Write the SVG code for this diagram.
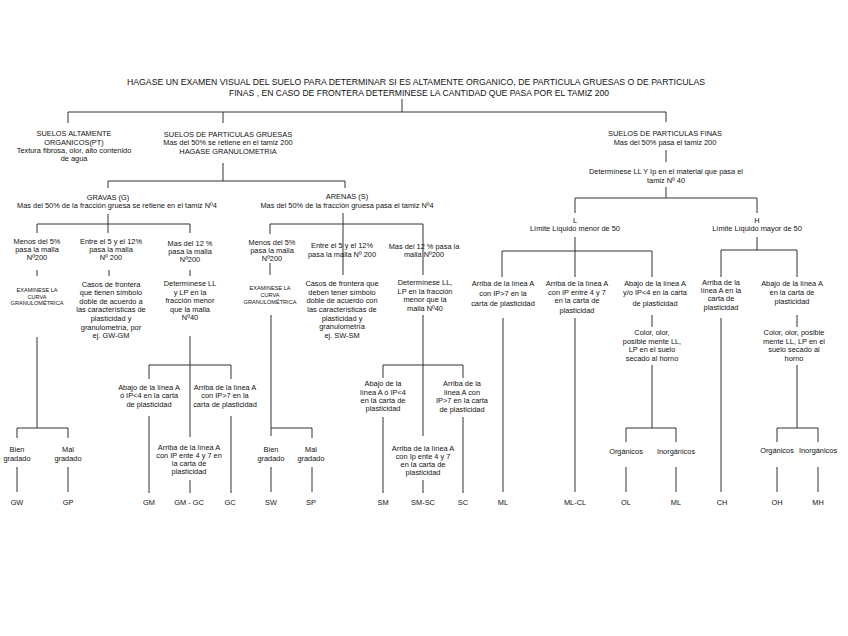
<svg xmlns="http://www.w3.org/2000/svg" width="848" height="636" viewBox="0 0 848 636">
<style>
text{font-family:"Liberation Sans",Arial,sans-serif;fill:#111;text-anchor:middle}
.t{font-size:7.4px}
.s{font-size:5.6px}
.h{font-size:8.6px}
.c{fill:none;stroke:#333;stroke-width:1}
</style>
<rect width="848" height="636" fill="#fff"/>
<g id="connectors" class="c">
<path d="M402,99V112M68,123V112H666V122M223,112V123"/>
<path d="M223,163V181M108,188V181H345V188"/>
<path d="M108,214V233M37,233V224H190V233M37,270V276M109,270V276M190,270V276"/>
<path d="M37,337V428M17,438V428H68V438M17,467V492M68,467V492"/>
<path d="M190,336V437M149,379V365H231V379M149,416V493M231,416V493M190,480V493"/>
<path d="M343,213V275M270,234V224H423V275M270,263V275"/>
<path d="M271,315V436M271,428H312V438M271,467V492M312,467V492"/>
<path d="M423,315V436M383,378V365H463V378M383,417V493M463,417V493M423,480V493"/>
<path d="M666,150V162M666,187V198M575,213V198H757V213"/>
<path d="M575,237V277M502,277V251H652V277M757,237V250M721,277V250H797V277"/>
<path d="M503,318V492M575,318V492M721,318V492M652,315V327M797,315V327"/>
<path d="M652,365V428M626,442V428H676V442M626,467V492M676,467V492"/>
<path d="M797,365V428M777,442V428H818V442M777,467V492M818,467V492"/>
</g>
<g id="title" class="h">
<text x="416" y="85" textLength="578" lengthAdjust="spacingAndGlyphs">HAGASE UN EXAMEN VISUAL DEL SUELO PARA DETERMINAR SI ES ALTAMENTE ORGANICO, DE PARTICULA GRUESAS  O DE PARTICULAS</text>
<text x="419" y="96" textLength="380" lengthAdjust="spacingAndGlyphs">FINAS , EN CASO DE FRONTERA DETERMINESE LA CANTIDAD QUE PASA POR EL TAMIZ 200</text>
</g>
<g id="organicos" class="t">
<text x="74" y="135.5">SUELOS ALTAMENTE</text>
<text x="74" y="144.5">ORGANICOS(PT)</text>
<text x="74" y="152.5">Textura fibrosa, olor, alto contenido</text>
<text x="74" y="160.5">de agua</text>
</g>
<g id="gruesas" class="t">
<text x="228" y="136.5">SUELOS DE PARTICULAS GRUESAS</text>
<text x="228" y="144.5">Mas del 50% se retiene en el tamiz 200</text>
<text x="228" y="153.5">HAGASE GRANULOMETRIA</text>
</g>
<g id="finas" class="t">
<text x="665" y="135.5">SUELOS DE PARTICULAS FINAS</text>
<text x="665" y="144.5">Mas del 50%  pasa el tamiz 200</text>
</g>
<g id="determinese" class="t">
<text x="666" y="173.5">Determínese LL Y Ip  en el material que pasa el</text>
<text x="666" y="182.5">tamiz Nº 40</text>
</g>
<g id="gravas" class="t">
<text x="108" y="199.5">GRAVAS (G)</text>
<text x="117" y="207.5">Mas del 50% de la fracción gruesa se retiene en el tamiz Nº4</text>
</g>
<g id="arenas" class="t">
<text x="347" y="198.5">ARENAS (S)</text>
<text x="347" y="207.5">Mas del 50% de la fracción gruesa pasa el tamiz Nº4</text>
</g>
<g id="g-menos5" class="t">
<text x="37" y="243.5">Menos del 5%</text>
<text x="37" y="251.5">pasa la malla</text>
<text x="37" y="259.5">Nº200</text>
</g>
<g id="g-entre" class="t">
<text x="111" y="243.5">Entre el 5 y el 12%</text>
<text x="111" y="251.5">pasa la malla</text>
<text x="111" y="259.5">Nº 200</text>
</g>
<g id="g-mas12" class="t">
<text x="190" y="245.5">Mas del 12 %</text>
<text x="190" y="253.5">pasa la malla</text>
<text x="190" y="261.5">Nº200</text>
</g>
<g id="g-examinese" class="s">
<text x="37" y="292">EXAMINESE  LA</text>
<text x="37" y="299">CURVA</text>
<text x="37" y="305">GRANULOMÉTRICA</text>
</g>
<g id="g-casos" class="t">
<text x="111" y="286.5">Casos de frontera</text>
<text x="111" y="294.5">que tienen símbolo</text>
<text x="111" y="303.5">doble de acuerdo a</text>
<text x="111" y="311.5">las características de</text>
<text x="111" y="320.5">plasticidad y</text>
<text x="111" y="329.5">granulometría, por</text>
<text x="111" y="337.5">ej.  GW-GM</text>
</g>
<g id="g-determinese" class="t">
<text x="190" y="285.5">Determínese LL</text>
<text x="190" y="294.5">y LP en la</text>
<text x="190" y="302.5">fracción menor</text>
<text x="190" y="311.5">que la malla</text>
<text x="190" y="319.5">Nº40</text>
</g>
<g id="g-bien" class="t"><text x="17" y="451.5">Bien</text><text x="17" y="460.5">gradado</text></g>
<g id="g-mal" class="t"><text x="68" y="451.5">Mal</text><text x="68" y="460.5">gradado</text></g>
<g id="g-abajo" class="t">
<text x="149" y="389.5">Abajo de la línea A</text>
<text x="149" y="397.5">ó IP&lt;4 en la carta</text>
<text x="149" y="406.5">de plasticidad</text>
</g>
<g id="g-arriba7" class="t">
<text x="225" y="389.5">Arriba de la línea A</text>
<text x="225" y="397.5">con IP&gt;7 en la</text>
<text x="225" y="406.5">carta de plasticidad</text>
</g>
<g id="g-arriba47" class="t">
<text x="189" y="449.5">Arriba de la línea A</text>
<text x="189" y="457.5">con IP ente 4 y 7 en</text>
<text x="189" y="465.5">la carta de</text>
<text x="189" y="473.5">plasticidad</text>
</g>
<g id="s-menos5" class="t">
<text x="272" y="244.5">Menos del 5%</text>
<text x="272" y="252.5">pasa la malla</text>
<text x="272" y="260.5">Nº200</text>
</g>
<g id="s-entre" class="t">
<text x="342" y="247.5">Entre el 5 y el 12%</text>
<text x="342" y="256.5">pasa la malla Nº 200</text>
</g>
<g id="s-mas12" class="t">
<text x="424" y="248.5">Mas del 12 % pasa la</text>
<text x="424" y="256.5">malla Nº200</text>
</g>
<g id="s-examinese" class="s">
<text x="270" y="290">EXAMINESE  LA</text>
<text x="270" y="297">CURVA</text>
<text x="270" y="304">GRANULOMÉTRICA</text>
</g>
<g id="s-casos" class="t">
<text x="342" y="285.5">Casos de frontera que</text>
<text x="342" y="294.5">deben tener símbolo</text>
<text x="342" y="302.5">doble de acuerdo con</text>
<text x="342" y="311.5">las características de</text>
<text x="342" y="320.5">plasticidad y</text>
<text x="342" y="328.5">granulometría</text>
<text x="342" y="337.5">ej. SW-SM</text>
</g>
<g id="s-determinese" class="t">
<text x="425" y="284.5">Determínese  LL,</text>
<text x="425" y="293.5">LP en la fracción</text>
<text x="425" y="301.5">menor que la</text>
<text x="425" y="310.5">malla Nº40</text>
</g>
<g id="s-bien" class="t"><text x="271" y="451.5">Bien</text><text x="271" y="460.5">gradado</text></g>
<g id="s-mal" class="t"><text x="311" y="451.5">Mal</text><text x="311" y="460.5">gradado</text></g>
<g id="s-abajo" class="t">
<text x="383" y="385.5">Abajo de la</text>
<text x="383" y="394.5">línea A ó IP&lt;4</text>
<text x="383" y="402.5">en la carta de</text>
<text x="383" y="410.5">plasticidad</text>
</g>
<g id="s-arriba7" class="t">
<text x="462" y="385.5">Arriba de la</text>
<text x="462" y="394.5">línea A con</text>
<text x="462" y="402.5">IP&gt;7 en la carta</text>
<text x="462" y="411.5">de plasticidad</text>
</g>
<g id="s-arriba47" class="t">
<text x="423" y="450.5">Arriba de la línea A</text>
<text x="423" y="458.5">con Ip ente 4 y 7</text>
<text x="423" y="466.5">en la carta de</text>
<text x="423" y="474.5">plasticidad</text>
</g>
<g id="f-L" class="t">
<text x="575" y="222.5">L</text>
<text x="575" y="230.5">Límite Líquido menor de 50</text>
</g>
<g id="f-H" class="t">
<text x="757" y="222.5">H</text>
<text x="757" y="230.5">Límite Líquido mayor de 50</text>
</g>
<g id="f-arriba7" class="t">
<text x="503" y="285.5">Arriba de la línea A</text>
<text x="503" y="295.5">con IP&gt;7 en la</text>
<text x="503" y="305.5">carta de plasticidad</text>
</g>
<g id="f-arriba47" class="t">
<text x="577" y="285.5">Arriba de la línea A</text>
<text x="577" y="294.5">con IP entre 4 y 7</text>
<text x="577" y="302.5">en la carta de</text>
<text x="577" y="312.5">plasticidad</text>
</g>
<g id="f-abajoL" class="t">
<text x="655" y="285.5">Abajo de la línea A</text>
<text x="655" y="294.5">y/o IP&lt;4 en la carta</text>
<text x="655" y="305.5">de plasticidad</text>
</g>
<g id="f-arribaH" class="t">
<text x="721" y="284.5">Arriba de la</text>
<text x="721" y="292.5">línea A en la</text>
<text x="721" y="300.5">carta de</text>
<text x="721" y="309.5">plasticidad</text>
</g>
<g id="f-abajoH" class="t">
<text x="792" y="285.5">Abajo de la línea A</text>
<text x="792" y="294.5">en la carta de</text>
<text x="792" y="303.5">plasticidad</text>
</g>
<g id="f-colorL" class="t">
<text x="652" y="334.5">Color,  olor,</text>
<text x="652" y="343.5">posible mente LL,</text>
<text x="652" y="351.5">LP en el suelo</text>
<text x="652" y="360.5">secado al horno</text>
</g>
<g id="f-colorH" class="t">
<text x="794" y="334.5">Color,  olor,  posible</text>
<text x="794" y="343.5">mente LL, LP en el</text>
<text x="794" y="351.5">suelo secado al</text>
<text x="794" y="360.5">horno</text>
</g>
<g id="f-orgL" class="t"><text x="626" y="453.5">Orgánicos</text></g>
<g id="f-inorgL" class="t"><text x="676" y="453.5">Inorgánicos</text></g>
<g id="f-orgH" class="t"><text x="777" y="452.5">Orgánicos</text></g>
<g id="f-inorgH" class="t"><text x="818" y="452.5">Inorgánicos</text></g>
<g id="symbols" class="t">
<text x="17" y="504.5">GW</text>
<text x="68" y="504.5">GP</text>
<text x="149" y="504.5">GM</text>
<text x="189" y="504.5">GM - GC</text>
<text x="230" y="504.5">GC</text>
<text x="271" y="504.5">SW</text>
<text x="311" y="504.5">SP</text>
<text x="383" y="504.5">SM</text>
<text x="423" y="504.5">SM-SC</text>
<text x="463" y="504.5">SC</text>
<text x="503" y="504.5">ML</text>
<text x="575" y="504.5">ML-CL</text>
<text x="626" y="504.5">OL</text>
<text x="676" y="504.5">ML</text>
<text x="722" y="504.5">CH</text>
<text x="777" y="504.5">OH</text>
<text x="818" y="504.5">MH</text>
</g>
</svg>
